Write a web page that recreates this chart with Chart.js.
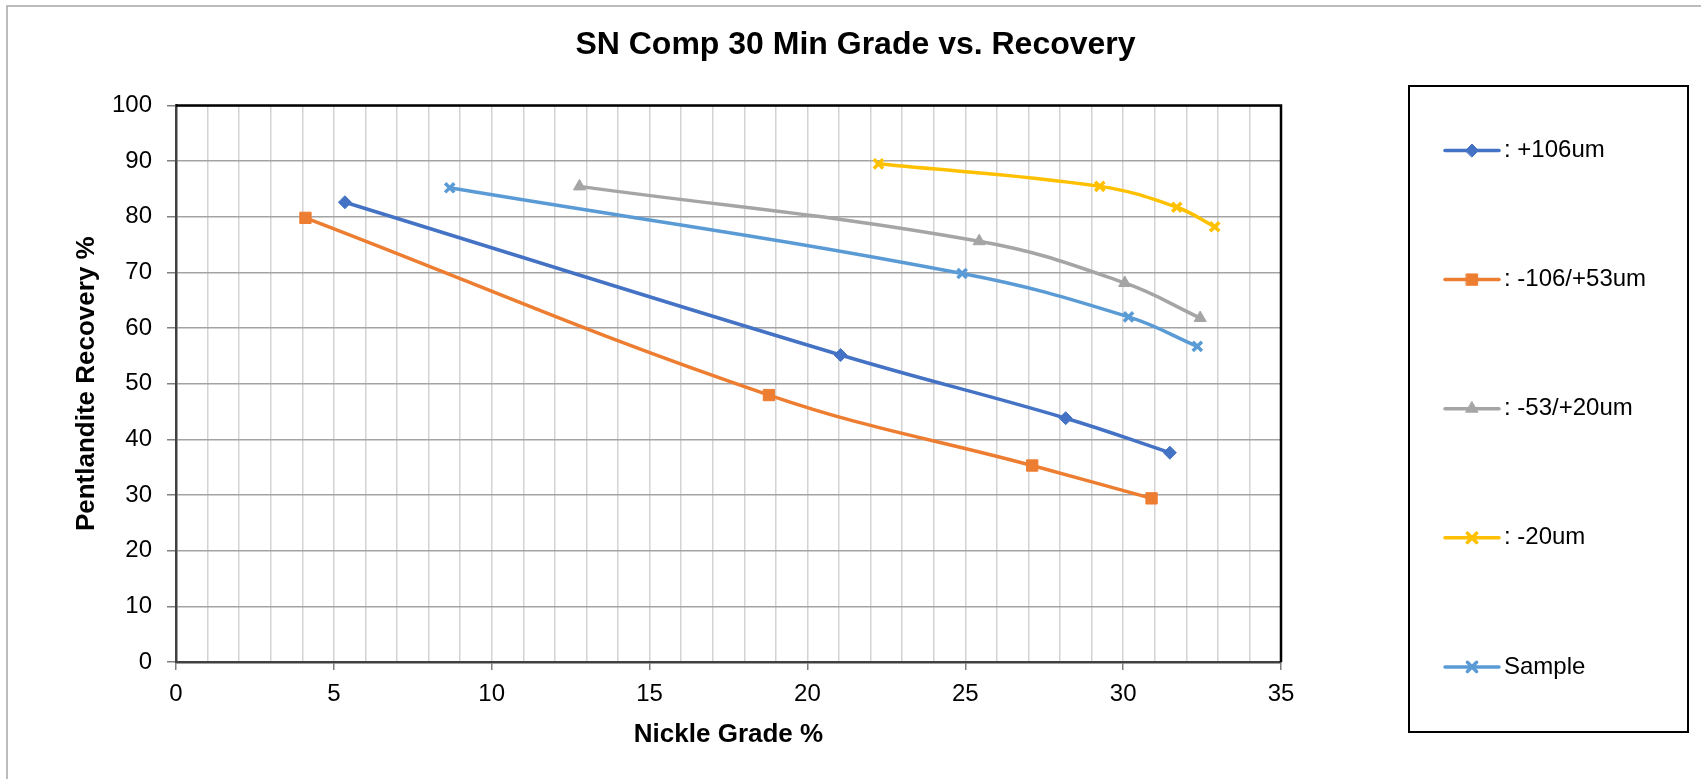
<!DOCTYPE html>
<html>
<head>
<meta charset="utf-8">
<script src="https://cdn.jsdelivr.net/npm/chart.js@4.4.0/dist/chart.umd.min.js"></script>
<style>
html,body{margin:0;padding:0;background:#fff;}
#wrap{width:1701px;height:779px;position:relative;}
</style>
</head>
<body>
<div id="wrap"><canvas id="c" width="1701" height="779"></canvas></div>
<script>
// ---- data ----
const chartTitle = 'SN Comp 30 Min Grade vs. Recovery';
const xAxisTitle = 'Nickle Grade %';
const yAxisTitle = 'Pentlandite Recovery %';
const seriesNames = [': +106um', ': -106/+53um', ': -53/+20um', ': -20um', 'Sample'];

const gradePlus106 = [5.35, 21.05, 28.18, 31.48];
const recovPlus106 = [82.6, 55.15, 43.8, 37.6];

const grade106to53 = [4.1, 18.78, 27.12, 30.9];
const recov106to53 = [79.8, 47.96, 35.3, 29.4];

const grade53to20 = [12.78, 25.44, 30.05, 32.44];
const recov53to20 = [85.45, 75.6, 68.1, 61.8];

const gradeMinus20 = [22.25, 29.26, 31.7, 32.9];
const recovMinus20 = [89.5, 85.45, 81.7, 78.2];

const gradeSample = [8.67, 24.9, 30.17, 32.35];
const recovSample = [85.2, 69.8, 62.0, 56.7];

const xTickStep = 1;     // minor vertical gridlines
const xLabelStep = 5;    // labelled ticks
const yTickStep = 10;

// ---- styles ----
const seriesColors = ['#4472C4', '#ED7D31', '#A5A5A5', '#FFC000', '#5B9BD5'];
const seriesMarkers = ['rectRot', 'rect', 'triangle', 'crossRot', 'crossRot'];
const markerRadius = [6.5, 8, 7, 6.5, 6.5];
const markerBorder = [1, 1, 1, 3.5, 3.5];

const FONT = "'Liberation Sans', Arial, Helvetica, sans-serif";
Chart.defaults.font.family = FONT;
Chart.defaults.color = '#000';

const grades = [gradePlus106, grade106to53, grade53to20, gradeMinus20, gradeSample];
const recovs = [recovPlus106, recov106to53, recov53to20, recovMinus20, recovSample];

const datasets = seriesNames.map((name, s) => ({
  label: name,
  data: grades[s].map((g, i) => ({ x: g, y: recovs[s][i] })),
  borderColor: seriesColors[s],
  backgroundColor: seriesColors[s],
  pointBackgroundColor: seriesColors[s],
  pointBorderColor: seriesColors[s],
  pointStyle: seriesMarkers[s],
  pointRadius: markerRadius[s],
  pointHoverRadius: markerRadius[s],
  pointBorderWidth: markerBorder[s],
  showLine: true,
  borderWidth: 3.5,
  tension: 0.4,
  fill: false
}));

const decorPlugin = {
  id: 'decor',
  beforeDraw(chart) {
    const ctx = chart.ctx;
    ctx.save();
    ctx.fillStyle = '#fff';
    ctx.fillRect(0, 0, chart.width, chart.height);
    ctx.strokeStyle = '#A6A6A6';
    ctx.lineWidth = 1.5;
    ctx.strokeRect(7, 6, chart.width + 10, chart.height + 10);
    ctx.restore();
  },
  afterDraw(chart) {
    const ctx = chart.ctx;
    const a = chart.chartArea;
    ctx.save();
    // plot frame: top and right
    ctx.strokeStyle = '#000';
    ctx.lineWidth = 2.5;
    ctx.beginPath();
    ctx.moveTo(a.left, a.top);
    ctx.lineTo(a.right, a.top);
    ctx.lineTo(a.right, a.bottom);
    ctx.stroke();

    // legend
    const boxL = 1409, boxT = 86, boxR = 1688, boxB = 732;
    ctx.lineWidth = 2;
    ctx.strokeStyle = '#000';
    ctx.strokeRect(boxL, boxT, boxR - boxL, boxB - boxT);
    const firstY = 150.5, stepY = 129.1;
    const lineX0 = 1445, lineX1 = 1499, textX = 1504;
    chart.data.datasets.forEach((ds, i) => {
      const y = firstY + i * stepY;
      ctx.strokeStyle = ds.borderColor;
      ctx.lineWidth = 3.5;
      ctx.lineCap = 'round';
      ctx.beginPath();
      ctx.moveTo(lineX0, y);
      ctx.lineTo(lineX1, y);
      ctx.stroke();
      ctx.fillStyle = ds.pointBackgroundColor;
      ctx.strokeStyle = ds.pointBorderColor;
      ctx.lineWidth = ds.pointBorderWidth;
      Chart.helpers.drawPoint(ctx, {
        pointStyle: ds.pointStyle,
        radius: ds.pointRadius,
        borderWidth: ds.pointBorderWidth,
        rotation: 0
      }, (lineX0 + lineX1) / 2, y);
      ctx.fillStyle = '#000';
      ctx.font = '24px ' + FONT;
      ctx.textBaseline = 'middle';
      ctx.textAlign = 'left';
      ctx.fillText(ds.label, textX, y);
    });
    ctx.restore();
  }
};

new Chart(document.getElementById('c'), {
  type: 'scatter',
  data: { datasets },
  options: {
    responsive: false,
    animation: false,
    devicePixelRatio: 1,
    layout: { padding: { left: 10, right: 0, top: 0, bottom: 0 } },
    plugins: {
      legend: { display: false },
      tooltip: { enabled: false },
      title: {
        display: true,
        text: chartTitle,
        color: '#000',
        font: { size: 32, weight: 'bold', family: FONT },
        padding: { top: 26, bottom: 41 }
      }
    },
    scales: {
      x: {
        type: 'linear',
        position: 'bottom',
        min: 0,
        max: 35,
        ticks: {
          stepSize: xTickStep,
          autoSkip: false,
          maxRotation: 0,
          padding: 10,
          font: { size: 24 },
          color: '#000',
          callback: v => (Math.abs(v % xLabelStep) < 1e-9 ? String(v) : '')
        },
        grid: {
          color: '#D3D3D3',
          lineWidth: 1.5,
          tickLength: 8,
          tickColor: c => (c.tick && Math.abs(c.tick.value % xLabelStep) < 1e-9 ? '#7F7F7F' : 'rgba(0,0,0,0)'),
          tickWidth: 1.5
        },
        border: { color: '#404040', width: 2.5 },
        title: {
          display: true,
          text: xAxisTitle,
          color: '#000',
          font: { size: 26, weight: 'bold' },
          padding: { top: 0, bottom: 29 }
        },
        afterFit: s => { s.height = 117; }
      },
      y: {
        type: 'linear',
        position: 'left',
        min: 0,
        max: 100,
        ticks: {
          stepSize: yTickStep,
          padding: 15,
          font: { size: 24 },
          color: '#000'
        },
        grid: {
          color: '#A3A3A3',
          lineWidth: 1.5,
          tickLength: 9,
          tickColor: '#7F7F7F',
          tickWidth: 1.5
        },
        border: { color: '#404040', width: 2.5 },
        title: {
          display: true,
          text: yAxisTitle,
          color: '#000',
          font: { size: 26, weight: 'bold' },
          padding: { top: 61, bottom: 0 }
        },
        afterFit: s => { s.width = 166; }
      },
      yLegendSpace: {
        type: 'linear',
        position: 'right',
        display: true,
        grid: { display: false, drawTicks: false },
        ticks: { display: false },
        border: { display: false },
        afterFit: s => { s.width = 420; }
      }
    }
  },
  plugins: [decorPlugin]
});
</script>
</body>
</html>
